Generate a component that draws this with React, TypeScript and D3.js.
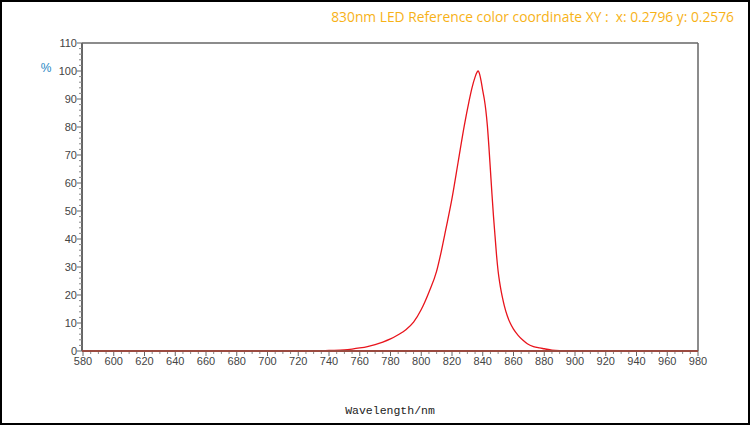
import React from "react";
import * as d3 from "d3";

// spectrum (nm, relative %)
const wavelengths = [
  580, 600, 650, 700, 730, 735, 740, 750, 755, 760, 765, 770, 775, 780, 785, 790, 795, 800,
  805, 810, 813, 816, 820, 824, 828, 831, 833, 835, 836, 837, 838, 839, 840, 841, 842, 843,
  844, 845, 846, 847, 848, 849, 850, 851, 852, 853, 854, 856, 858, 860, 863, 866, 869, 873,
  877, 880, 885, 890, 900, 940, 980,
];
const intensity = [
  0, 0, 0, 0, 0, 0.1, 0.2, 0.4, 0.7, 1.1, 1.6, 2.3, 3.2, 4.3, 5.8, 7.6, 10.3, 14.8, 21, 28.5,
  35.5, 43.5, 54.5, 67.5, 80.5, 89, 94, 97.8, 99.3, 100, 98.8, 96.2, 93, 90, 86, 80.5, 73,
  64.5, 56, 48, 41, 34, 28.5, 24.5, 21.3, 18.6, 16.2, 12.5, 9.8, 7.8, 5.6, 3.9, 2.6, 1.6, 1.1,
  0.8, 0.3, 0.1, 0, 0, 0,
];
const xTicks = d3.range(580, 981, 20);
const yTicks = d3.range(0, 111, 10);

const title = "830nm LED Reference color coordinate XY :  x: 0.2796 y: 0.2576";

const W = 750;
const H = 425;
const m = { left: 83, right: 52, top: 43, bottom: 74 };

export default function App() {
  const x = d3.scaleLinear().domain([580, 980]).range([m.left, W - m.right]);
  const y = d3.scaleLinear().domain([0, 110]).range([H - m.bottom, m.top]);

  const pts = wavelengths.map((w, i) => [w, intensity[i]] as [number, number]);
  const line = d3
    .line<[number, number]>()
    .x((d) => x(d[0]))
    .y((d) => y(d[1]))
    .curve(d3.curveMonotoneX);

  const minorX = d3.range(580, 981, 5).filter((v) => v % 20 !== 0);
  const minorY = d3.range(0, 111, 2).filter((v) => v % 10 !== 0);
  const axisColor = "#666";
  const labelColor = "#444";
  const x0 = m.left - 1;
  const y0 = y(0);

  return (
    <svg
      width={W}
      height={H}
      style={{ position: "fixed", left: 0, top: 0, background: "#fff" }}
      fontFamily="'Liberation Sans', Arial, sans-serif"
    >
      <rect x={1} y={1} width={W - 2} height={H - 2} fill="#fff" stroke="#000" strokeWidth={2} />

      <text
        x={734}
        y={22}
        textAnchor="end"
        fill="#f7b217"
        fontSize={13.8}
        fontFamily="'Open Sans', 'Noto Sans', sans-serif"
        style={{ whiteSpace: "pre" }}
      >
        {title}
      </text>

      {/* frame */}
      <line x1={x0} x2={x(980)} y1={y(110)} y2={y(110)} stroke={axisColor} strokeWidth={1.5} />
      <line x1={x(980)} x2={x(980)} y1={y(110)} y2={y0} stroke={axisColor} strokeWidth={1.5} />

      {/* y axis */}
      <line x1={x0} x2={x0} y1={y(110)} y2={y0} stroke={axisColor} strokeWidth={2} />
      {minorY.map((v) => (
        <line key={"my" + v} x1={x0 - 3} x2={x0} y1={y(v)} y2={y(v)} stroke="#888" />
      ))}
      {yTicks.map((v) => (
        <g key={"y" + v}>
          <line x1={x0 - 5} x2={x0} y1={y(v)} y2={y(v)} stroke={axisColor} />
          <text x={x0 - 5} y={y(v)} dy="0.35em" textAnchor="end" fontSize={11} fill={labelColor}>
            {v}
          </text>
        </g>
      ))}

      {/* x axis */}
      {minorX.map((v) => (
        <line key={"mx" + v} x1={x(v)} x2={x(v)} y1={y0} y2={y0 + 3} stroke="#888" />
      ))}
      {xTicks.map((v) => (
        <g key={"x" + v}>
          <line x1={x(v)} x2={x(v)} y1={y0} y2={y0 + 5} stroke={axisColor} />
          <text x={x(v)} y={y0 + 14} textAnchor="middle" fontSize={11} fill={labelColor}>
            {v}
          </text>
        </g>
      ))}

      <path d={line(pts) ?? ""} fill="none" stroke="#e8141c" strokeWidth={1.3} />
      <line x1={x0} x2={x(980)} y1={y0} y2={y0} stroke="#9a4a40" strokeWidth={2} />

      <text x={46} y={72} textAnchor="middle" fontSize={12} fill="#1f86c4">
        %
      </text>
      <text
        x={390}
        y={414}
        textAnchor="middle"
        fontSize={11.5}
        fill="#222"
        fontFamily="'Liberation Mono', monospace"
      >
        Wavelength/nm
      </text>
    </svg>
  );
}
